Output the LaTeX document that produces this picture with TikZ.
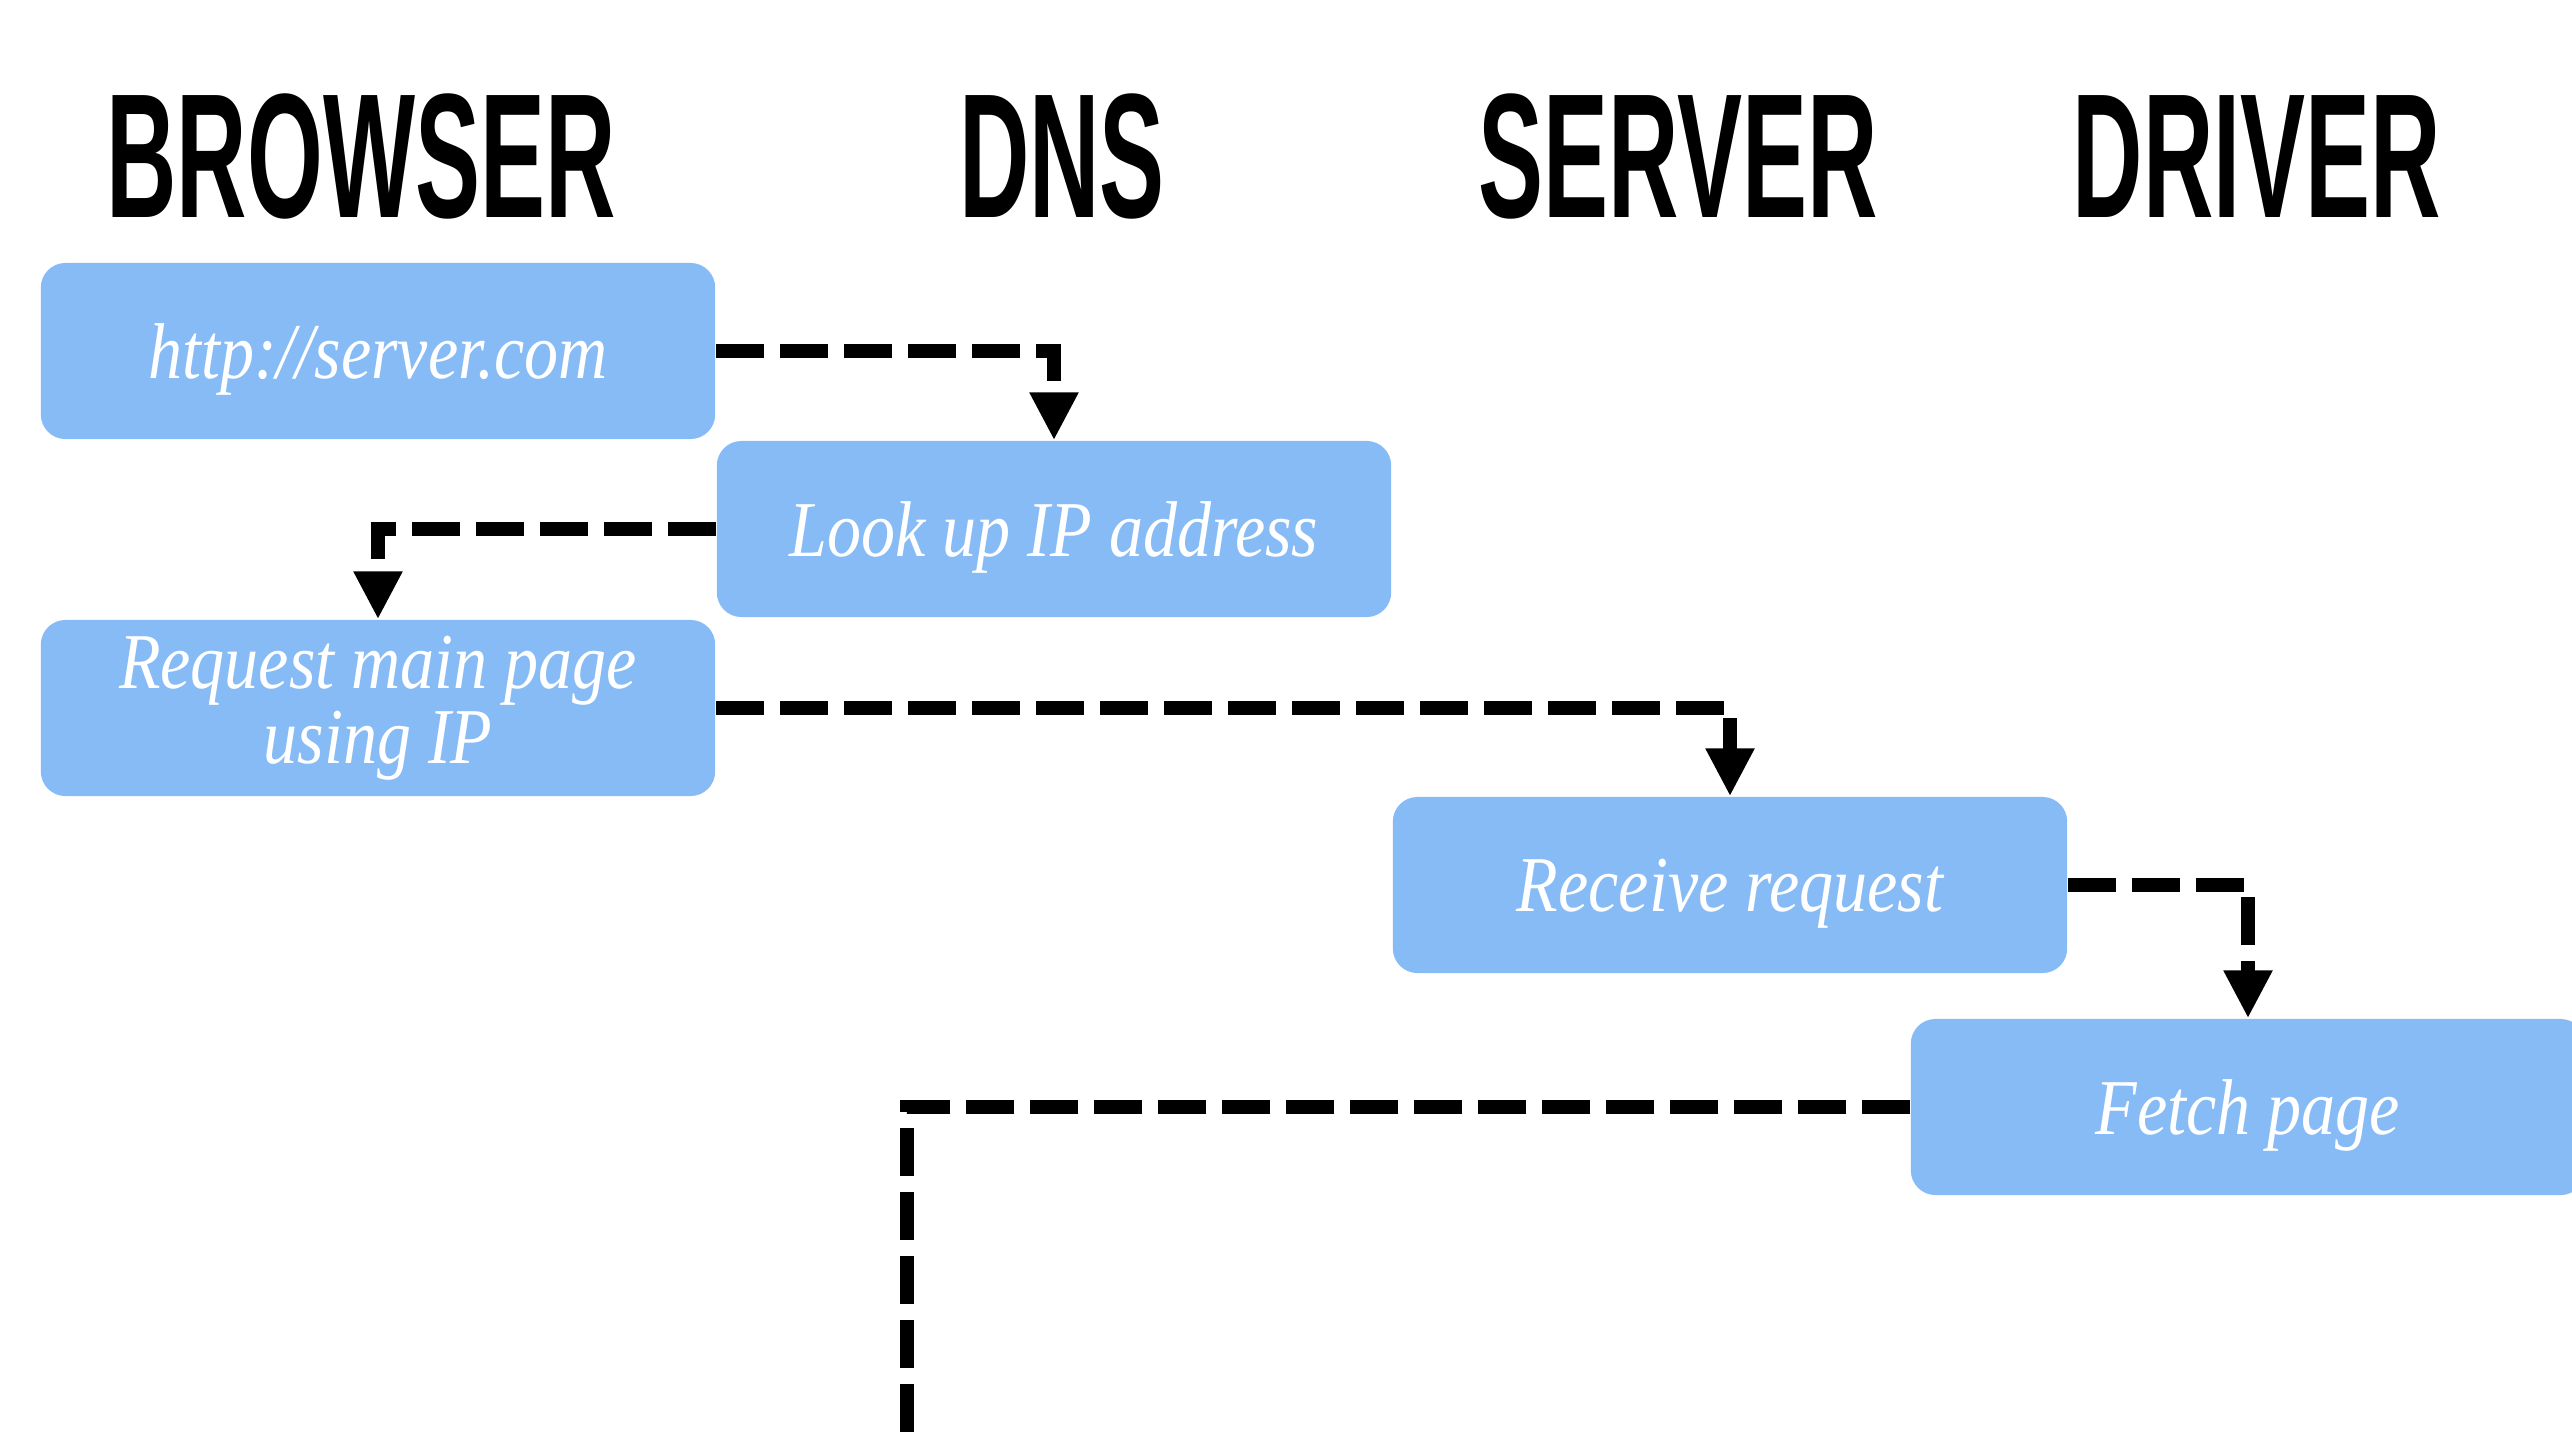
\documentclass[tikz,border=0pt]{standalone}
\usepackage{fontspec}
\usetikzlibrary{arrows.meta}
\newfontfamily\headfont{Liberation Sans}
\newfontfamily\stepfont{Liberation Serif}[FakeStretch=0.86]
\definecolor{boxblue}{RGB}{134,187,246}

\begin{document}
\begin{tikzpicture}[x=0.01cm,y=-0.01cm,
    head/.style={anchor=base,inner sep=0pt,
                 font=\headfont\bfseries\fontsize{50.4pt}{51pt}\selectfont},
    stepbox/.style={fill=boxblue,rounded corners=7pt,minimum width=6.74cm,
                    minimum height=1.76cm,inner sep=0pt,text=white,align=center,
                    font=\stepfont\itshape\fontsize{22.5pt}{21.3pt}\selectfont},
    oneline/.style={stepbox,text depth=0pt},
    flow/.style={line width=4pt,dash pattern=on 13.6pt off 4.6pt,
                 -{Triangle[length=13.6pt,width=13pt]}}]
            \useasboundingbox (0,0) rectangle (2572,1442);
            \clip (0,0) rectangle (2572,1442);

            % The column titles
            \node[head] (browser) at (361,217) {\scalebox{0.55}[1]{BROWSER}};
            \node[head] (dns) at (1062,217) {\scalebox{0.55}[1]{DNS}};
            \node[head] (server) at (1678,217) {\scalebox{0.55}[1]{SERVER}};
            \node[head] (driver) at (2257,217) {\scalebox{0.55}[1]{DRIVER}};

            % The steps
            \node[oneline] (url) at (378,351) {http://server.com};
            \node[oneline] (lookup) at (1054,529) {Look up IP address};
            \node[stepbox] (request) at (378,708) {Request main page\\using IP};
            \node[oneline] (receive) at (1730,885) {Receive request};
            \node[oneline] (fetch) at (2248,1107) {Fetch page};
            \coordinate (down) at (907,1500);

            % The arrows!
            \draw[flow] (url.east) -| (lookup.north);
            \draw[flow] (lookup.west) -| (request.north);
            \draw[flow] (request.east) -| (receive.north);
            \draw[flow] (receive.east) -| (fetch.north);
            \draw[flow,-] (fetch.west) -| (down);
        \end{tikzpicture}
\end{document}
